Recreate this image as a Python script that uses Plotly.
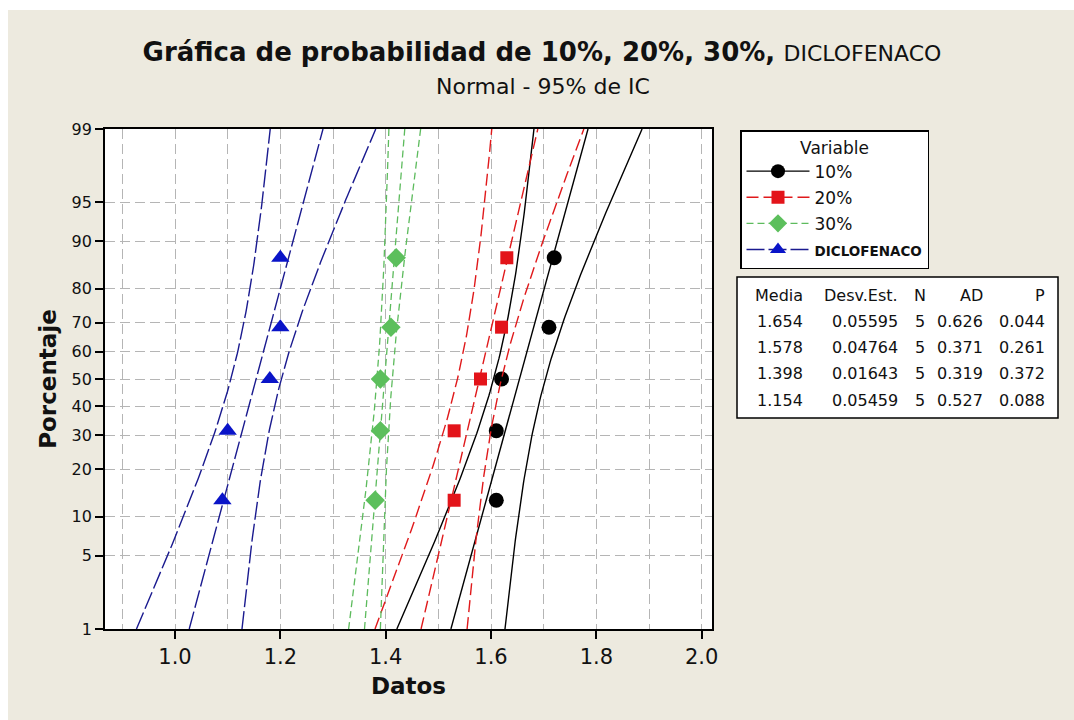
import plotly.graph_objects as go
from statistics import NormalDist, mean, stdev
import math

# ---------------- data ----------------
series_names = ["10%", "20%", "30%", "DICLOFENACO"]
datos_10 = [1.61, 1.61, 1.62, 1.71, 1.72]
datos_20 = [1.53, 1.53, 1.58, 1.62, 1.63]
datos_30 = [1.38, 1.39, 1.39, 1.41, 1.42]
datos_diclo = [1.09, 1.10, 1.18, 1.20, 1.20]

pct_ticks = [1, 5, 10, 20, 30, 40, 50, 60, 70, 80, 90, 95, 99]
x_tickvals = [1.0, 1.2, 1.4, 1.6, 1.8, 2.0]
x_ticktext = ["1.0", "1.2", "1.4", "1.6", "1.8", "2.0"]

table_header = ["Media", "Desv.Est.", "N", "AD", "P"]
tab_media = ["1.654", "1.578", "1.398", "1.154"]
tab_desv = ["0.05595", "0.04764", "0.01643", "0.05459"]
tab_n = ["5", "5", "5", "5"]
tab_ad = ["0.626", "0.371", "0.319", "0.527"]
tab_p = ["0.044", "0.261", "0.372", "0.088"]

all_data = [datos_10, datos_20, datos_30, datos_diclo]

# ---------------- styles ----------------
styles = [
    dict(lc="#000000", dash="solid", lw=1.4, mc="#000000", sym="circle", ms=15),
    dict(lc="#E0191B", dash="12px,5px", lw=1.4, mc="#E3141A", sym="square", ms=13),
    dict(lc="#5DBB5D", dash="7px,4px", lw=1.3, mc="#5CBF5C", sym="diamond", ms=15),
    dict(lc="#1A1A8F", dash="18px,4px", lw=1.4, mc="#0A14C8", sym="triangle-up", ms=16),
]

FONT = "DejaVu Sans"
BEIGE = "#EDEADF"
W, H = 1074, 720
L, R, T, B = 105, 362, 129, 91
PW, PH = W - L - R, H - T - B

def px_x(p):
    return (p - L) / PW

def px_y(p):
    return (H - B - p) / PH

nd = NormalDist()
zlo, zhi = nd.inv_cdf(0.01), nd.inv_cdf(0.99)
z_curve = [zlo + (zhi - zlo) * k / 120 for k in range(121)]

fig = go.Figure()

for name, vals, st in zip(series_names, all_data, styles):
    n = len(vals)
    m = mean(vals)
    s = stdev(vals)
    xs_sorted = sorted(vals)
    z_pts = [nd.inv_cdf((i + 1 - 0.3) / (n + 0.4)) for i in range(n)]
    fit = [m + s * z for z in z_curve]
    se = [s * math.sqrt(1.0 / n + z * z / (2.0 * (n - 1))) for z in z_curve]
    lo = [f - 1.96 * e for f, e in zip(fit, se)]
    hi = [f + 1.96 * e for f, e in zip(fit, se)]
    line = dict(color=st["lc"], dash=st["dash"], width=st["lw"])
    for xs in (lo, hi, fit):
        fig.add_trace(go.Scatter(x=xs, y=z_curve, mode="lines", line=line,
                                 showlegend=False, hoverinfo="skip"))
    fig.add_trace(go.Scatter(x=xs_sorted, y=z_pts, mode="markers",
                             marker=dict(symbol=st["sym"], size=st["ms"], color=st["mc"]),
                             showlegend=False, name=name))

# legend-only entries
for gi, (name, st) in enumerate(zip(series_names, styles)):
    label = name
    if name == "DICLOFENACO":
        label = "<span style='font-size:13.5px'><b>DICLOFENACO</b></span>"
    fig.add_trace(go.Scatter(x=[None], y=[None], mode="lines+markers", name=label,
                             legendgroup="g%d" % gi,
                             line=dict(color=st["lc"], dash=st["dash"], width=st["lw"]),
                             marker=dict(symbol=st["sym"], size=min(st["ms"], 14), color=st["mc"])))

grid_col = "#B5B5B5"
grid_dash = "10px,5px"
fig.update_xaxes(
    range=[1.0 - (175 - L) / 526.7, 2.0 + (712 - 701.7) / 526.7],
    tickvals=x_tickvals, ticktext=x_ticktext,
    showgrid=True, gridcolor=grid_col, griddash=grid_dash, gridwidth=1.3,
    minor=dict(dtick=0.1, tick0=0, showgrid=True, gridcolor=grid_col,
               griddash=grid_dash, gridwidth=1.3, ticks=""),
    showline=True, mirror=True, linecolor="black", linewidth=1.8,
    ticks="outside", ticklen=8, tickwidth=1.8, tickcolor="black",
    tickfont=dict(family=FONT, size=21, color="#111111"),
    zeroline=False,
    title=dict(text="<b>Datos</b>", font=dict(family=FONT, size=23, color="#111111"), standoff=10),
)
fig.update_yaxes(
    range=[zlo, zhi],
    tickvals=[nd.inv_cdf(p / 100) for p in pct_ticks],
    ticktext=[str(p) for p in pct_ticks],
    showgrid=True, gridcolor=grid_col, griddash=grid_dash, gridwidth=1.3,
    showline=True, mirror=True, linecolor="black", linewidth=1.8,
    ticks="outside", ticklen=8, tickwidth=1.8, tickcolor="black",
    tickfont=dict(family=FONT, size=16, color="#111111"),
    zeroline=False,
    title=dict(text="<b>Porcentaje</b>", font=dict(family=FONT, size=23, color="#111111"), standoff=8),
)

shapes = [
    # thin white strips at the top and left of the page
    dict(type="rect", xref="paper", yref="paper", layer="below",
         x0=px_x(-5), x1=px_x(W + 5), y0=px_y(10), y1=px_y(-5),
         fillcolor="white", line=dict(width=0)),
    dict(type="rect", xref="paper", yref="paper", layer="below",
         x0=px_x(-5), x1=px_x(8), y0=px_y(H + 5), y1=px_y(-5),
         fillcolor="white", line=dict(width=0)),
    # statistics table box
    dict(type="rect", xref="paper", yref="paper",
         x0=px_x(737), x1=px_x(1058), y0=px_y(418), y1=px_y(277),
         fillcolor="white", line=dict(color="black", width=1.5)),
]

annotations = [
    dict(text="Normal - 95% de IC", xref="paper", yref="paper",
         x=px_x(543), y=px_y(87), showarrow=False, xanchor="center", yanchor="middle",
         font=dict(family=FONT, size=22, color="#111111")),
]

col_x = [805, 900, 920, 985, 1047]
col_anchor = ["right", "right", "center", "right", "right"]
row_y = [295, 321.5, 347.5, 373.5, 400]
columns = [tab_media, tab_desv, tab_n, tab_ad, tab_p]
for ci, head in enumerate(table_header):
    annotations.append(dict(text=head, xref="paper", yref="paper", x=px_x(col_x[ci]),
                            y=px_y(row_y[0]), showarrow=False, xanchor=col_anchor[ci],
                            yanchor="middle", font=dict(family=FONT, size=16, color="#111111")))
    for ri, val in enumerate(columns[ci]):
        annotations.append(dict(text=val, xref="paper", yref="paper", x=px_x(col_x[ci]),
                                y=px_y(row_y[ri + 1]), showarrow=False, xanchor=col_anchor[ci],
                                yanchor="middle", font=dict(family=FONT, size=16, color="#111111")))

fig.update_layout(
    width=W, height=H,
    margin=dict(l=L, r=R, t=T, b=B, autoexpand=False),
    paper_bgcolor=BEIGE, plot_bgcolor="white",
    title=dict(text="<b>Gráfica de probabilidad de 10%, 20%, 30%,</b> "
                    "<span style='font-size:22px'>DICLOFENACO</span>",
               x=542 / W, xanchor="center", y=1 - 52 / H, yanchor="middle",
               xref="container", yref="container",
               font=dict(family=FONT, size=26, color="#111111")),
    legend=dict(x=px_x(740), y=px_y(130), xanchor="left", yanchor="top",
                bgcolor="white", bordercolor="black", borderwidth=1.5,
                font=dict(family=FONT, size=17, color="#111111"),
                title=dict(text="Variable", side="top center",
                           font=dict(family=FONT, size=17, color="#111111")),
                itemwidth=63, tracegroupgap=1),
    shapes=shapes, annotations=annotations,
    showlegend=True,
)

fig.write_html("out.html")
